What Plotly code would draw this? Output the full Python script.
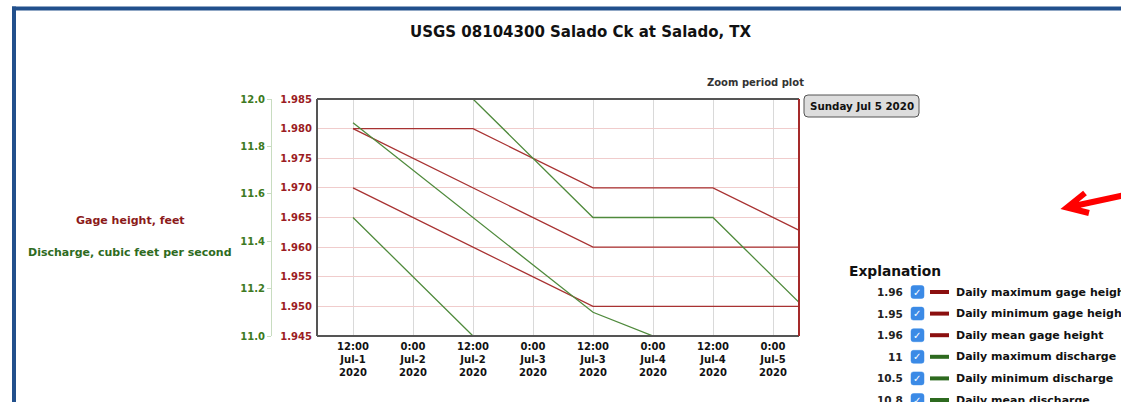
import plotly.graph_objects as go

# ---------------- data ----------------
dates = ["2020-07-01 12:00", "2020-07-02 12:00", "2020-07-03 12:00",
         "2020-07-04 12:00", "2020-07-05 12:00"]
gage_max = [1.980, 1.980, 1.970, 1.970, 1.960]
gage_min = [1.970, 1.960, 1.950, 1.950, 1.950]
gage_mean = [1.980, 1.970, 1.960, 1.960, 1.960]
q_max = [12.0, 12.0, 11.5, 11.5, 11.0]
q_min = [11.5, 11.0, 10.7, 10.6, 10.5]
q_mean = [11.9, 11.5, 11.1, 10.9, 10.8]

tick_vals = ["2020-07-01 12:00", "2020-07-02 00:00", "2020-07-02 12:00",
             "2020-07-03 00:00", "2020-07-03 12:00", "2020-07-04 00:00",
             "2020-07-04 12:00", "2020-07-05 00:00"]
tick_text = ["12:00<br>Jul-1<br>2020", "0:00<br>Jul-2<br>2020",
             "12:00<br>Jul-2<br>2020", "0:00<br>Jul-3<br>2020",
             "12:00<br>Jul-3<br>2020", "0:00<br>Jul-4<br>2020",
             "12:00<br>Jul-4<br>2020", "0:00<br>Jul-5<br>2020"]
x_range = ["2020-07-01 04:48", "2020-07-05 05:12"]

legend_names = ["Daily maximum gage height", "Daily minimum gage height",
                "Daily mean gage height", "Daily maximum discharge",
                "Daily minimum discharge", "Daily mean discharge"]

# ---------------- layout geometry ----------------
FW, FH = 1121, 402
PL = 260            # paper left edge (px)
L, R, T, B = 317, 799, 99, 336   # plot box
PW, H = R - PL, B - T
FONT = "DejaVu Sans"
RED_LINE = "#a83232"
GREEN_LINE = "#4f8a3c"
RED_TXT = "#9b1c22"
GREEN_TXT = "#3d7a22"


def px(x):
    return (x - PL) / PW


def py(y):
    return (B - y) / H


fig = go.Figure()

for vals in (gage_max, gage_min, gage_mean):
    fig.add_trace(go.Scatter(x=dates, y=vals, mode="lines", yaxis="y",
                             line=dict(color=RED_LINE, width=1.3),
                             hoverinfo="skip", showlegend=False))
for vals in (q_max, q_min, q_mean):
    fig.add_trace(go.Scatter(x=dates, y=vals, mode="lines", yaxis="y2",
                             line=dict(color=GREEN_LINE, width=1.3),
                             hoverinfo="skip", showlegend=False))

shapes = []
annotations = []

# plot box
shapes.append(dict(type="line", xref="paper", yref="paper", x0=px(L), x1=px(L), y0=0, y1=1,
                   line=dict(color="#555555", width=2)))
shapes.append(dict(type="line", xref="paper", yref="paper", x0=px(L), x1=1, y0=1, y1=1,
                   line=dict(color="#555555", width=2)))
shapes.append(dict(type="line", xref="paper", yref="paper", x0=px(L), x1=1, y0=0, y1=0,
                   line=dict(color="#555555", width=2)))
shapes.append(dict(type="line", xref="paper", yref="paper", x0=1, x1=1, y0=0, y1=1,
                   line=dict(color="#a52a2a", width=2)))

# page frame (blue)
shapes.append(dict(type="line", xref="paper", yref="paper", x0=px(12), x1=px(FW + 5),
                   y0=py(8.5), y1=py(8.5), line=dict(color="#22508c", width=4)))
shapes.append(dict(type="line", xref="paper", yref="paper", x0=px(14), x1=px(14),
                   y0=py(6.5), y1=py(FH + 5), line=dict(color="#22508c", width=4)))

# title
annotations.append(dict(text="<b>USGS 08104300 Salado Ck at Salado, TX</b>",
                        xref="paper", yref="paper", x=px(581), y=py(32),
                        showarrow=False, font=dict(family=FONT, size=15, color="#111111"),
                        xanchor="center", yanchor="middle"))

# zoom period text + button
annotations.append(dict(text="<b>Zoom period plot</b>", xref="paper", yref="paper",
                        x=px(755), y=py(82), showarrow=False,
                        font=dict(family=FONT, size=10, color="#333333"),
                        xanchor="center", yanchor="middle"))


def rounded_rect(x0, y0, x1, y1, r):
    return (f"M {px(x0 + r)} {py(y0)} L {px(x1 - r)} {py(y0)} "
            f"Q {px(x1)} {py(y0)} {px(x1)} {py(y0 + r)} "
            f"L {px(x1)} {py(y1 - r)} Q {px(x1)} {py(y1)} {px(x1 - r)} {py(y1)} "
            f"L {px(x0 + r)} {py(y1)} Q {px(x0)} {py(y1)} {px(x0)} {py(y1 - r)} "
            f"L {px(x0)} {py(y0 + r)} Q {px(x0)} {py(y0)} {px(x0 + r)} {py(y0)} Z")


shapes.append(dict(type="path", xref="paper", yref="paper",
                   path=rounded_rect(804, 95, 919, 117, 4),
                   fillcolor="#dddddd", line=dict(color="#555555", width=1)))
annotations.append(dict(text="<b>Sunday Jul 5 2020</b>", xref="paper", yref="paper",
                        x=px(861.5), y=py(106), showarrow=False,
                        font=dict(family=FONT, size=10.3, color="#111111"),
                        xanchor="center", yanchor="middle"))

# left axis titles
annotations.append(dict(text="<b>Gage height, feet</b>", xref="paper", yref="paper",
                        x=px(130), y=py(220), showarrow=False,
                        font=dict(family=FONT, size=11, color="#8b1a1a"),
                        xanchor="center", yanchor="middle"))
annotations.append(dict(text="<b>Discharge, cubic feet per second</b>", xref="paper",
                        yref="paper", x=px(130), y=py(252), showarrow=False,
                        font=dict(family=FONT, size=11, color="#2e6b1e"),
                        xanchor="center", yanchor="middle"))

# explanation block
annotations.append(dict(text="<b>Explanation</b>", xref="paper", yref="paper",
                        x=px(847), y=py(271), showarrow=False,
                        font=dict(family=FONT, size=13.8, color="#111111"),
                        xanchor="left", yanchor="middle"))
last_vals = [gage_max[-1], gage_min[-1], gage_mean[-1], q_max[-1], q_min[-1], q_mean[-1]]
sw_colors = ["#8b1010"] * 3 + ["#2d6a1f"] * 3
row_y0, row_dy = 292, 21.6
for i, (name, v, c) in enumerate(zip(legend_names, last_vals, sw_colors)):
    yy = row_y0 + i * row_dy
    annotations.append(dict(text=f"<b>{v:g}</b>", xref="paper", yref="paper",
                            x=px(905), y=py(yy), showarrow=False,
                            font=dict(family=FONT, size=10.5, color="#222222"),
                            xanchor="right", yanchor="middle"))
    shapes.append(dict(type="path", xref="paper", yref="paper",
                       path=rounded_rect(911, yy - 6.5, 924, yy + 6.5, 2.5),
                       fillcolor="#3b8ae6", line=dict(color="#3b8ae6", width=0.5)))
    annotations.append(dict(text="<b>✓</b>", xref="paper", yref="paper",
                            x=px(917.5), y=py(yy), showarrow=False,
                            font=dict(family=FONT, size=10, color="#ffffff"),
                            xanchor="center", yanchor="middle"))
    shapes.append(dict(type="line", xref="paper", yref="paper",
                       x0=px(930), x1=px(949), y0=py(yy), y1=py(yy),
                       line=dict(color=c, width=4)))
    annotations.append(dict(text=f"<b>{name}</b>", xref="paper", yref="paper",
                            x=px(954), y=py(yy), showarrow=False,
                            font=dict(family=FONT, size=11, color="#111111"),
                            xanchor="left", yanchor="middle"))

# red arrow
arrow_path = (f"M {px(1125)} {py(195)} L {px(1067)} {py(207.5)} "
              f"M {px(1085)} {py(193)} L {px(1067)} {py(207.5)} L {px(1089)} {py(213)}")
shapes.append(dict(type="path", xref="paper", yref="paper", path=arrow_path,
                   line=dict(color="#ff0000", width=6)))

fig.update_layout(
    width=FW, height=FH,
    margin=dict(l=PL, r=FW - R, t=T, b=FH - B, pad=0),
    paper_bgcolor="white", plot_bgcolor="white",
    showlegend=False,
    xaxis=dict(type="date", range=x_range, tickmode="array", tickvals=tick_vals,
               domain=[px(L), 1], ticktext=tick_text,
               showgrid=True, gridcolor="#d9d9d9", gridwidth=1,
               zeroline=False, showline=False, ticks="", ticklabelstandoff=3,
               tickfont=dict(family=FONT, size=10, color="#111111", weight="bold")),
    yaxis=dict(range=[1.945, 1.985], tickmode="linear", tick0=1.945, dtick=0.005,
               tickformat=".3f", showgrid=True, gridcolor="#f0cccc", gridwidth=1,
               zeroline=False, showline=False, ticks="", ticklabelstandoff=4,
               tickfont=dict(family=FONT, size=10, color=RED_TXT, weight="bold")),
    yaxis2=dict(range=[11.0, 12.0], tickmode="linear", tick0=11.0, dtick=0.2,
                tickformat=".1f", overlaying="y", anchor="free", side="left",
                position=px(271), showgrid=False, zeroline=False,
                showline=True, linecolor="#c8dcc0", linewidth=1,
                ticks="outside", ticklen=4, tickcolor="#c8dcc0",
                tickfont=dict(family=FONT, size=10, color=GREEN_TXT, weight="bold")),
    shapes=shapes,
    annotations=annotations,
)

fig.write_html("out.html", config={"displayModeBar": False},
               post_script="document.body.style.margin='0';")
